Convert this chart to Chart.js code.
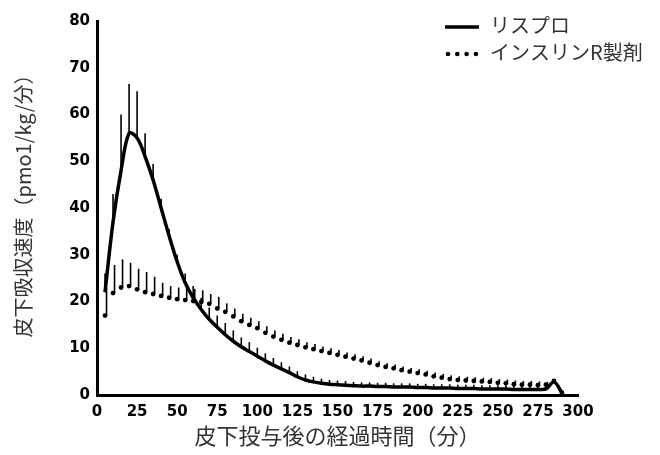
<!DOCTYPE html>
<html>
<head>
<meta charset="utf-8">
<script src="https://cdn.jsdelivr.net/npm/chart.js@4.4.1/dist/chart.umd.min.js"></script>
<style>
  html, body { margin: 0; padding: 0; background: #fff; }
  #wrap { width: 660px; height: 455px; }
</style>
</head>
<body>
<div id="wrap"><canvas id="c" width="660" height="455"></canvas></div>
<script>
// Time after subcutaneous injection (min)
const times = [5,10,15,20,25,30,35,40,45,50,55,60,65,70,75,80,85,90,95,100,
  105,110,115,120,125,130,135,140,145,150,155,160,165,170,175,180,185,190,195,200,
  205,210,215,220,225,230,235,240,245,250,255,260,265,270,275,280,285,290];

// リスプロ (mean)
const lispro = [22,37,48,56,55,51,46,40,34,28.5,24,20.8,18.3,16.2,14.5,12.9,11.5,10.3,9.3,8.3,
  7.3,6.4,5.6,4.8,3.9,3.2,2.8,2.5,2.3,2.2,2.1,2.0,1.9,1.9,1.8,1.8,1.7,1.7,1.7,1.6,
  1.6,1.5,1.5,1.5,1.4,1.4,1.4,1.3,1.3,1.3,1.3,1.2,1.2,1.2,1.2,1.3,2.8,0.5];
// リスプロ (SD, upper bar)
const lisproSD = [4,6,12,10.5,10,5,3.4,2,1.5,1.5,2,2.5,2.5,2.5,2.5,2.5,2.3,2,2,1.8,
  1.6,1.5,1.4,1.3,1.2,1.2,1.1,1.0,0.9,0.9,0.9,0.8,0.8,0.8,0.8,0.8,0.8,0.8,0.8,0.8,
  0.8,0.8,0.8,0.8,0.8,0.8,0.8,0.8,0.8,0.8,0.8,0.8,0.8,0.8,0.8,0.8,0,0];

// インスリンR製剤 (mean)
const regular = [17,21.8,23,23.3,22.6,22,21.6,21.2,20.8,20.5,20.3,20.1,19.9,19.5,18.5,17.8,16.8,15.8,15,14.3,
  13.3,12.5,11.8,11.2,10.7,10.2,9.8,9.4,9.0,8.6,8.2,7.8,7.4,6.9,6.4,6.0,5.7,5.3,5.0,4.7,
  4.4,4.0,3.7,3.4,3.2,3.1,3.0,2.9,2.8,2.6,2.5,2.3,2.2,2.2,2.1,2.2,3.0,0.5];
// インスリンR製剤 (SD, upper bar)
const regularSD = [6,6,6,5,4.4,4.3,3.7,2.8,2.5,2.5,2.6,2.6,2.5,2.1,2.5,1.8,1.7,1.6,1.5,1.5,
  1.4,1.3,1.3,1.2,1.2,1.1,1.1,1.0,1.0,1.0,0.9,0.9,0.9,0.9,0.8,0.8,0.8,0.8,0.8,0.8,
  0.8,0.8,0.8,0.8,0.8,0.8,0.8,0.8,0.8,0.8,0.8,0.8,0.8,0.8,0.8,0.6,0,0];

const xTicks = [0,25,50,75,100,125,150,175,200,225,250,275,300];
const yTicks = [0,10,20,30,40,50,60,70,80];
const seriesNames = ['リスプロ', 'インスリンR製剤'];
const xTitle = '皮下投与後の経過時間（分）';
const yTitle = '皮下吸収速度（pmo1/kg/分）';

const jpFont = '"Noto Sans CJK JP", "Noto Sans", sans-serif';
const numFont = '"DejaVu Sans", "Liberation Sans", sans-serif';

const toPts = (vals) => times.map((t, i) => ({ x: t, y: vals[i] }));

const errorBars = {
  id: 'errorBars',
  afterDatasetsDraw(chart) {
    const { ctx, scales: { x, y } } = chart;
    ctx.save();
    chart.data.datasets.forEach((ds) => {
      if (!ds.sd) return;
      ctx.strokeStyle = '#000';
      ctx.lineWidth = 1.6;
      ds.data.forEach((p, i) => {
        const sd = ds.sd[i];
        if (!sd) return;
        const px = x.getPixelForValue(p.x) + (ds.barShift || 0);
        const y0 = y.getPixelForValue(p.y);
        const y1 = y.getPixelForValue(p.y + sd);
        ctx.beginPath();
        ctx.moveTo(px, y0);
        ctx.lineTo(px, y1);
        ctx.stroke();
      });
    });
    ctx.restore();
  }
};

const customLegend = {
  id: 'customLegend',
  afterDraw(chart) {
    const { ctx } = chart;
    ctx.save();
    const x0 = 445, x1 = 479, tx = 490;
    const rows = [25, 52];
    ctx.font = '20px ' + jpFont;
    ctx.fillStyle = '#333';
    ctx.textBaseline = 'middle';
    ctx.textAlign = 'left';
    ctx.strokeStyle = '#000';
    ctx.lineWidth = 3.5;
    ctx.beginPath();
    ctx.moveTo(x0, rows[0] + 2);
    ctx.lineTo(x1, rows[0] + 2);
    ctx.stroke();
    ctx.fillText(chart.data.datasets[0].label, tx, rows[0]);
    ctx.fillStyle = '#000';
    for (let k = 0; k < 4; k++) {
      ctx.beginPath();
      ctx.arc(x0 + 3 + k * 9.3, rows[1] + 2, 2.3, 0, Math.PI * 2);
      ctx.fill();
    }
    ctx.fillStyle = '#333';
    ctx.fillText(chart.data.datasets[1].label, tx, rows[1]);
    ctx.restore();
  }
};

const yAxisTitle = {
  id: 'yAxisTitle',
  afterDraw(chart) {
    const { ctx } = chart;
    ctx.save();
    ctx.translate(23, 201);
    ctx.rotate(-Math.PI / 2);
    ctx.font = '20px ' + jpFont;
    ctx.fillStyle = '#333';
    ctx.textAlign = 'center';
    ctx.textBaseline = 'middle';
    ctx.fillText(yTitle, 0, 0);
    ctx.restore();
  }
};

new Chart(document.getElementById('c'), {
  type: 'line',
  data: {
    datasets: [
      {
        label: seriesNames[0],
        data: toPts(lispro),
        sd: lisproSD,
        borderColor: '#000',
        borderWidth: 3.5,
        pointRadius: 0,
        tension: 0.35,
        fill: false
      },
      {
        label: seriesNames[1],
        data: toPts(regular),
        sd: regularSD,
        barShift: 1.5,
        showLine: false,
        pointRadius: 2.4,
        pointBackgroundColor: '#000',
        pointBorderWidth: 0,
        borderColor: '#000'
      }
    ]
  },
  options: {
    responsive: false,
    animation: false,
    events: [],
    layout: { padding: { left: 0, top: 21, right: 82, bottom: 0 } },
    plugins: {
      legend: { display: false },
      tooltip: { enabled: false }
    },
    scales: {
      x: {
        type: 'linear',
        min: 0, max: 300,
        afterFit(s) { s.height = 60; },
        afterBuildTicks(s) { s.ticks = xTicks.map(v => ({ value: v })); },
        grid: { display: false, drawTicks: false },
        border: { display: true, color: '#000', width: 3 },
        ticks: {
          color: '#000',
          padding: 8,
          maxRotation: 0,
          autoSkip: false,
          font: { family: numFont, weight: 'bold', size: 15 }
        },
        title: {
          display: true,
          text: xTitle,
          color: '#333',
          font: { family: jpFont, size: 22 },
          padding: { top: 0, bottom: 6 }
        }
      },
      y: {
        type: 'linear',
        min: 0, max: 80,
        afterFit(s) { s.width = 97; },
        afterBuildTicks(s) { s.ticks = yTicks.map(v => ({ value: v })); },
        grid: { display: false, drawTicks: false },
        border: { display: true, color: '#000', width: 3 },
        ticks: {
          color: '#000',
          padding: 7,
          autoSkip: false,
          font: { family: numFont, weight: 'bold', size: 15 }
        },
        title: { display: false }
      }
    }
  },
  plugins: [errorBars, customLegend, yAxisTitle]
});
</script>
</body>
</html>
